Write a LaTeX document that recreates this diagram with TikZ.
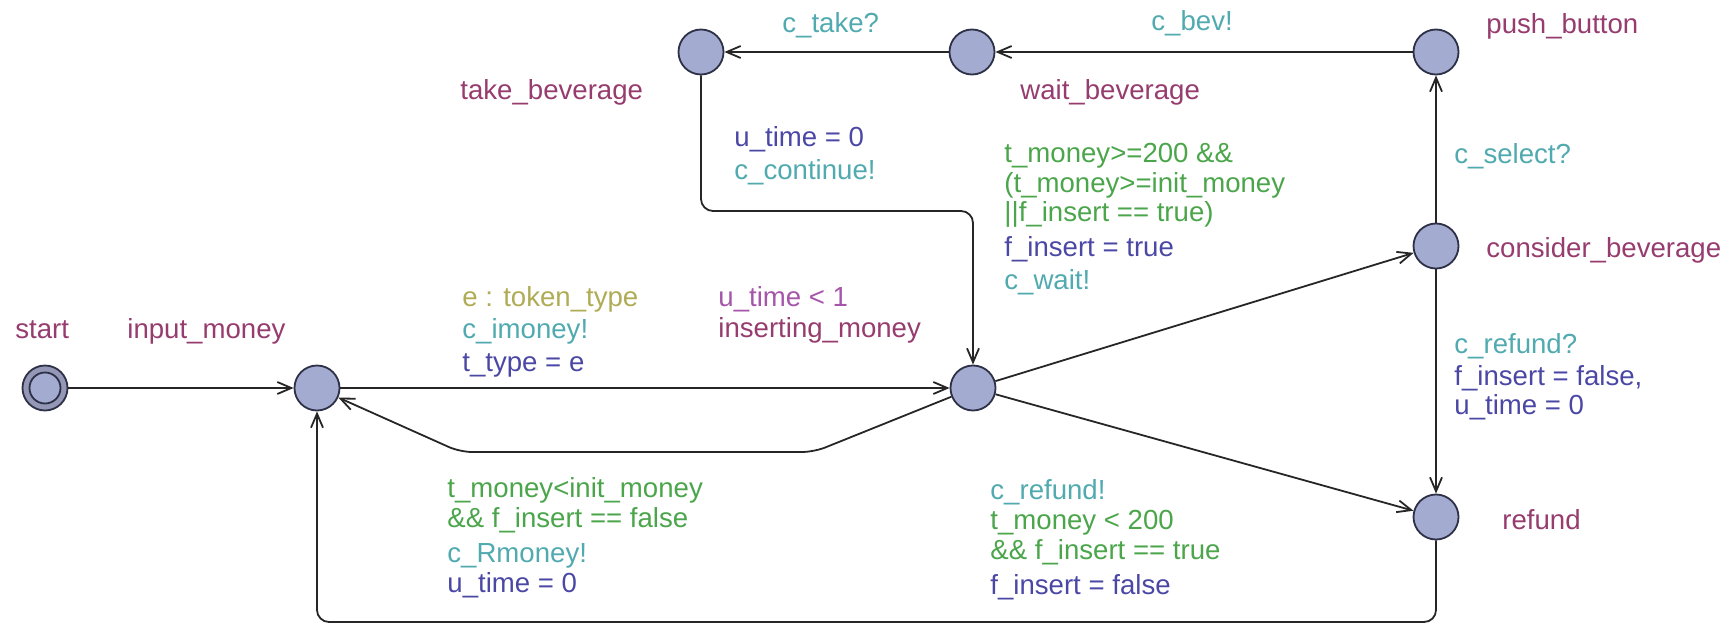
\documentclass[tikz,border=0pt]{standalone}
\usepackage{fontspec}
\setmainfont{Liberation Sans}
\usepackage{tikz}
\usetikzlibrary{arrows.meta}

\definecolor{locfill}{RGB}{163,172,208}
\definecolor{ringfill}{RGB}{148,152,182}
\definecolor{locline}{RGB}{45,48,70}
\definecolor{namecol}{RGB}{150,60,110}
\definecolor{invcol}{RGB}{165,85,170}
\definecolor{selcol}{RGB}{175,172,85}
\definecolor{grdcol}{RGB}{75,165,75}
\definecolor{synccol}{RGB}{80,170,175}
\definecolor{updcol}{RGB}{75,72,165}

\begin{document}
\begin{tikzpicture}[
    x=0.5pt, y=-0.5pt,
    font=\fontsize{13.8}{15}\selectfont,
    loc/.style={circle, draw=locline, fill=locfill, line width=0.9pt, minimum size=22.5pt, inner sep=0pt},
    lbl/.style={anchor=base west, inner sep=0pt},
    locname/.style={lbl, text=namecol},
    invlbl/.style={lbl, text=invcol},
    sellbl/.style={lbl, text=selcol},
    grdlbl/.style={lbl, text=grdcol},
    synclbl/.style={lbl, text=synccol},
    updlbl/.style={lbl, text=updcol},
    edge/.style={-{Straight Barb[length=7pt, width=6pt]}, line width=0.9pt, draw=black!85, rounded corners=6pt}
]
\useasboundingbox (0,0) rectangle (1732,626);

% locations
\node[loc, fill=ringfill] (start) at (45,388) {};
\node[loc, minimum size=15.5pt] (startin) at (start.center) {};
\node[loc] (input) at (317,388) {};
\node[loc] (inserting) at (973,388) {};
\node[loc] (take) at (701,52) {};
\node[loc] (wait) at (972,52) {};
\node[loc] (push) at (1436,52) {};
\node[loc] (consider) at (1436,246) {};
\node[loc] (refund) at (1436,517) {};

% location names and invariant
\node[locname] (nstart) at (15,338) {start};
\node[locname] (ninput) at (127,338) {input\_money};
\node[invlbl] (iinserting) at (718,306) {u\_time < 1};
\node[locname] (ninserting) at (718,337) {inserting\_money};
\node[locname] (ntake) at (460,99) {take\_beverage};
\node[locname] (nwait) at (1020,99) {wait\_beverage};
\node[locname] (npush) at (1486,34) {push\_button};
\node[locname] (nconsider) at (1486,257) {consider\_beverage};
\node[locname] (nrefund) at (1502,529) {refund};

% bend points
\coordinate (ret1) at (814,452);
\coordinate (ret2) at (460,452);
\coordinate (cont1) at (701,211);
\coordinate (cont2) at (973,211);
\coordinate (bot1) at (1436,622);
\coordinate (bot2) at (317,622);

% edges
\draw[edge] (start) -- (input);
\draw[edge] (input) -- (inserting);
\draw[edge] (inserting) -- (ret1) -- (ret2) -- (input);
\draw[edge] (inserting) -- (consider);
\draw[edge] (inserting) -- (refund);
\draw[edge] (consider) -- (push);
\draw[edge] (consider) -- (refund);
\draw[edge] (push) -- (wait);
\draw[edge] (wait) -- (take);
\draw[edge] (take) -- (cont1) -- (cont2) -- (inserting);
\draw[edge] (refund) -- (bot1) -- (bot2) -- (input);

% input_money -> inserting_money
\node[sellbl] (s1) at (462,306) {e : token\_type};
\node[synclbl] (c1) at (462,338) {c\_imoney!};
\node[updlbl] (u1) at (462,371) {t\_type = e};

% inserting_money -> input_money
\node[grdlbl] (g2a) at (447,497) {t\_money<init\_money};
\node[grdlbl] (g2b) at (447,527) {\&\& f\_insert == false};
\node[synclbl] (c2) at (447,562) {c\_Rmoney!};
\node[updlbl] (u2) at (447,592) {u\_time = 0};

% take_beverage -> inserting_money
\node[updlbl] (u3) at (734,147) {u\_time = 0};
\node[synclbl] (c3) at (734,179) {c\_continue!};

% inserting_money -> consider_beverage
\node[grdlbl] (g4a) at (1004,162) {t\_money>=200 \&\&};
\node[grdlbl] (g4b) at (1004,192) {(t\_money>=init\_money};
\node[grdlbl] (g4c) at (1004,221) {||f\_insert == true)};
\node[updlbl] (u4) at (1004,256) {f\_insert = true};
\node[synclbl] (c4) at (1004,289) {c\_wait!};

% inserting_money -> refund
\node[synclbl] (c5) at (990,499) {c\_refund!};
\node[grdlbl] (g5a) at (990,529) {t\_money < 200};
\node[grdlbl] (g5b) at (990,559) {\&\& f\_insert == true};
\node[updlbl] (u5) at (990,594) {f\_insert = false};

% right column
\node[synclbl] (c6) at (1454,163) {c\_select?};
\node[synclbl] (c7) at (1454,353) {c\_refund?};
\node[updlbl] (u7a) at (1454,385) {f\_insert = false,};
\node[updlbl] (u7b) at (1454,414) {u\_time = 0};

% top row
\node[synclbl] (c8) at (1151,31) {c\_bev!};
\node[synclbl] (c9) at (782,33) {c\_take?};

\end{tikzpicture}
\end{document}
